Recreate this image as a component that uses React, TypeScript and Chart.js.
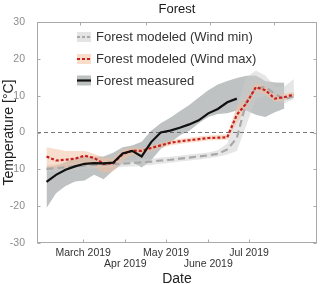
import React, { useEffect, useRef } from "react";
import { Chart, registerables } from "chart.js";

Chart.register(...registerables);

// Weekly sample dates
const weekDates = [
  "2019-02-02", "2019-02-09", "2019-02-16", "2019-02-23", "2019-03-02", "2019-03-09",
  "2019-03-16", "2019-03-23", "2019-03-30", "2019-04-06", "2019-04-13", "2019-04-20",
  "2019-04-27", "2019-05-04", "2019-05-11", "2019-05-18", "2019-05-25", "2019-06-01",
  "2019-06-08", "2019-06-15", "2019-06-22", "2019-06-29", "2019-07-06", "2019-07-13",
  "2019-07-20", "2019-07-27", "2019-08-03",
];

const measuredMean = [-13.4, -11.5, -10.1, -9.2, -8.5, -8.3, -8.4, -8.2, -5.7, -5.0, -6.5, -2.6, 0.0, 0.5, 1.3, 2.2, 3.3, 5.2, 6.4, 8.2, 9.2, null, null, null, null, null, null];
const measuredUpper = [-9.4, -9.0, -8.0, -7.0, -6.5, -6.5, -6.5, -5.5, -4.0, -3.5, -2.5, 0.5, 2.5, 4.0, 5.8, 7.5, 9.5, 11.5, 13.0, 14.0, 14.8, 15.4, 15.5, 14.0, 13.6, 13.5, null];
const measuredLower = [-20.5, -16.5, -14.5, -13.3, -13.0, -11.5, -12.7, -10.3, -8.5, -8.0, -9.5, -7.5, -4.5, -2.8, -0.8, 0.5, 2.5, 4.2, 5.0, 5.2, 6.0, 6.0, 4.8, 4.2, 5.5, 6.5, null];

const windMaxMean = [-6.5, -7.6, -7.4, -7.1, -6.3, -6.9, -8.5, -8.4, -5.9, -4.9, -5.0, -4.2, -3.5, -2.8, -2.4, -2.1, -1.8, -1.5, -1.4, -1.3, 4.8, 7.9, 12.3, 11.5, 9.2, 9.6, 10.3];
const windMaxUpper = [-4.0, -4.5, -5.0, -5.0, -5.0, -5.8, -6.8, -7.0, -4.6, -4.0, -4.2, -3.5, -2.8, -2.1, -1.7, -1.4, -1.1, -0.8, -0.7, -0.5, 7.0, 9.5, 13.5, 12.6, 10.2, 10.6, 11.0];
const windMaxLower = [-9.5, -10.0, -9.8, -9.5, -8.8, -9.2, -11.0, -10.5, -7.5, -6.2, -6.0, -5.0, -4.2, -3.5, -3.1, -2.8, -2.5, -2.2, -2.1, -2.0, 2.5, 6.3, 11.0, 10.4, 8.3, 8.7, 9.5];

const windMinMean = [-9.9, -9.7, -9.4, -9.2, -9.0, -8.8, -8.7, -8.6, -8.5, -8.3, -8.1, -7.9, -7.6, -7.4, -7.1, -6.8, -6.5, -6.2, -5.8, -4.6, -1.5, 8.3, 12.0, 12.4, 10.4, 9.1, 9.8];
const windMinUpper = [-8.8, -8.6, -8.4, -8.2, -8.0, -7.9, -7.8, -7.7, -7.6, -7.5, -7.3, -7.1, -6.8, -6.6, -6.3, -6.0, -5.7, -5.4, -4.8, -3.0, 7.0, 15.0, 16.8, 15.5, 12.5, 12.5, 14.5];
const windMinLower = [-10.8, -10.6, -10.4, -10.2, -10.0, -9.8, -9.6, -9.5, -9.4, -9.2, -9.0, -8.8, -8.5, -8.2, -7.9, -7.6, -7.3, -7.0, -6.6, -6.0, -5.0, 2.0, 9.0, 10.0, 8.5, 8.0, 9.0];

const xRangeDates = ["2019-01-26", "2019-08-20"];
const xTickDates = ["2019-03-01", "2019-04-01", "2019-05-01", "2019-06-01", "2019-07-01"];
const xTickLabels = ["March 2019", "Apr 2019", "May 2019", "June 2019", "Jul 2019"];
const topTickDates = ["2019-02-27", "2019-04-16", "2019-06-02", "2019-07-19"];
const yTicks = [-30, -20, -10, 0, 10, 20, 30];
const zeroLevel = 0;

const legendLabels = ["Forest modeled (Wind min)", "Forest modeled (Wind max)", "Forest measured"];
const titleText = "Forest";
const xTitle = "Date";
const yTitle = "Temperature [°C]";

const dayOf = (s: string) => {
  const [y, m, d] = s.split("-").map(Number);
  return (Date.UTC(y, m - 1, d) - Date.UTC(2019, 0, 1)) / 86400000;
};

const FONT = "'Liberation Sans', Arial, sans-serif";
const AXIS = "#a9a9a9";

const C_MEAS_BAND = "rgba(150,156,156,0.62)";
const C_MIN_BAND = "rgba(205,205,205,0.5)";
const C_MAX_BAND = "rgba(246,190,155,0.5)";
const C_MEAS = "#111111";
const C_MAX = "#c81e1e";
const C_MIN = "#a8a8a8";

export default function App() {
  const ref = useRef<HTMLCanvasElement | null>(null);

  useEffect(() => {
    if (!ref.current) return;
    const xs = weekDates.map(dayOf);
    const pts = (arr: (number | null)[]) => arr.map((v, i) => ({ x: xs[i], y: v }));
    const xMin = dayOf(xRangeDates[0]);
    const xMax = dayOf(xRangeDates[1]);
    const tickDays = xTickDates.map(dayOf);
    const topDays = topTickDates.map(dayOf);

    const line = (label: string, data: any, color: string, dash: number[], width: number, order: number) => ({
      label, data, borderColor: color, borderWidth: width, borderDash: dash,
      pointRadius: 0, fill: false, tension: 0, order, spanGaps: false,
    });
    const band = (label: string, data: any, color: string, fill: any, order: number) => ({
      label, data, borderWidth: 0, borderColor: "rgba(0,0,0,0)", backgroundColor: color,
      pointRadius: 0, fill, tension: 0, order, spanGaps: false,
    });

    const decor = {
      id: "decor",
      afterDraw(chart: any) {
        const { ctx, chartArea: a, scales } = chart;
        const sx = scales.x, sy = scales.y;
        ctx.save();
        // box
        ctx.strokeStyle = AXIS;
        ctx.lineWidth = 1;
        const L = Math.round(a.left) + 0.5, R = Math.round(a.right) - 0.5;
        const T = Math.round(a.top) + 0.5, B = Math.round(a.bottom) - 0.5;
        ctx.strokeRect(L, T, R - L, B - T);
        ctx.beginPath();
        yTicks.forEach((v) => {
          const py = Math.round(sy.getPixelForValue(v)) + 0.5;
          ctx.moveTo(L, py); ctx.lineTo(L + 3, py);
          ctx.moveTo(R, py); ctx.lineTo(R - 3, py);
        });
        tickDays.forEach((d) => {
          const px = Math.round(sx.getPixelForValue(d)) + 0.5;
          ctx.moveTo(px, B); ctx.lineTo(px, B - 3);
        });
        topDays.forEach((d) => {
          const px = Math.round(sx.getPixelForValue(d)) + 0.5;
          ctx.moveTo(px, T); ctx.lineTo(px, T + 3);
        });
        ctx.stroke();

        // title
        ctx.fillStyle = "#1a1a1a";
        ctx.font = `13px ${FONT}`;
        ctx.textAlign = "center";
        ctx.textBaseline = "middle";
        ctx.fillText(titleText, (a.left + a.right) / 2, 9);

        // legend
        const rows = [
          { band: "#e4e4e4", color: C_MIN, dash: [3, 2] },
          { band: "#fadccb", color: C_MAX, dash: [3, 2] },
          { band: "#bcc0c0", color: C_MEAS, dash: [] as number[] },
        ];
        const rowY = [15, 37, 58.5];
        rows.forEach((r, i) => {
          const cy = a.top + rowY[i];
          const ix = a.left + 40;
          ctx.fillStyle = r.band;
          ctx.fillRect(ix, cy - 5, 14, 10);
          ctx.strokeStyle = r.color;
          ctx.lineWidth = 2.2;
          ctx.setLineDash(r.dash);
          ctx.beginPath();
          ctx.moveTo(ix, cy); ctx.lineTo(ix + 14, cy);
          ctx.stroke();
          ctx.setLineDash([]);
          ctx.fillStyle = "#333333";
          ctx.font = `13px ${FONT}`;
          ctx.textAlign = "left";
          ctx.textBaseline = "middle";
          ctx.fillText(legendLabels[i], a.left + 59, cy + 0.5);
        });
        ctx.restore();
      },
    };

    const chart = new Chart(ref.current, {
      type: "line",
      data: {
        datasets: [
          line("Forest measured", pts(measuredMean), C_MEAS, [], 2.2, 1),
          line("Forest modeled (Wind max)", pts(windMaxMean), C_MAX, [3, 2], 2.2, 2),
          line("Forest modeled (Wind min)", pts(windMinMean), C_MIN, [7, 4], 2.2, 3),
          line("zero", [{ x: xMin, y: zeroLevel }, { x: xMax, y: zeroLevel }], "#555555", [4, 3], 0.8, 4),
          band("max upper", pts(windMaxUpper), C_MAX_BAND, "+1", 6),
          band("max lower", pts(windMaxLower), C_MAX_BAND, false, 6),
          band("min upper", pts(windMinUpper), C_MIN_BAND, "+1", 7),
          band("min lower", pts(windMinLower), C_MIN_BAND, false, 7),
          band("meas upper", pts(measuredUpper), C_MEAS_BAND, "+1", 8),
          band("meas lower", pts(measuredLower), C_MEAS_BAND, false, 8),
        ] as any,
      },
      options: {
        animation: false,
        responsive: false,
        maintainAspectRatio: false,
        layout: { padding: { top: 22, right: 3, left: 0, bottom: 0 } },
        plugins: { legend: { display: false }, tooltip: { enabled: false }, title: { display: false } },
        scales: {
          x: {
            type: "linear",
            min: xMin,
            max: xMax,
            grid: { display: false },
            border: { display: false },
            afterFit: (s: any) => { s.height = 41; },
            afterBuildTicks: (s: any) => { s.ticks = tickDays.map((v) => ({ value: v })); },
            ticks: {
              autoSkip: false,
              maxRotation: 0,
              padding: -4,
              color: "#333333",
              font: { family: FONT, size: 10.5, lineHeight: 1.1 },
              callback: (_v: any, i: number) => (i % 2 === 0 ? [xTickLabels[i]] : ["", xTickLabels[i]]),
            },
            title: {
              display: true,
              text: xTitle,
              color: "#222222",
              font: { family: FONT, size: 14, lineHeight: 1.2 },
              padding: { top: 0, bottom: -3.5 },
            },
          },
          y: {
            min: -30,
            max: 30,
            grid: { display: false },
            border: { display: false },
            afterFit: (s: any) => { s.width = 37; },
            afterBuildTicks: (s: any) => { s.ticks = yTicks.map((v) => ({ value: v })); },
            ticks: {
              padding: 4,
              color: "#8c8c8c",
              font: { family: FONT, size: 10.5 },
            },
            title: {
              display: true,
              text: yTitle,
              color: "#222222",
              font: { family: FONT, size: 14, lineHeight: 1.2 },
              padding: { top: 0.5, bottom: 0 },
            },
          },
        },
      },
      plugins: [decor],
    });
    return () => chart.destroy();
  }, []);

  return (
    <div style={{ position: "absolute", left: 0, top: 0, width: 320, height: 284 }}>
      <canvas ref={ref} width={320} height={284} style={{ width: 320, height: 284 }} />
    </div>
  );
}
